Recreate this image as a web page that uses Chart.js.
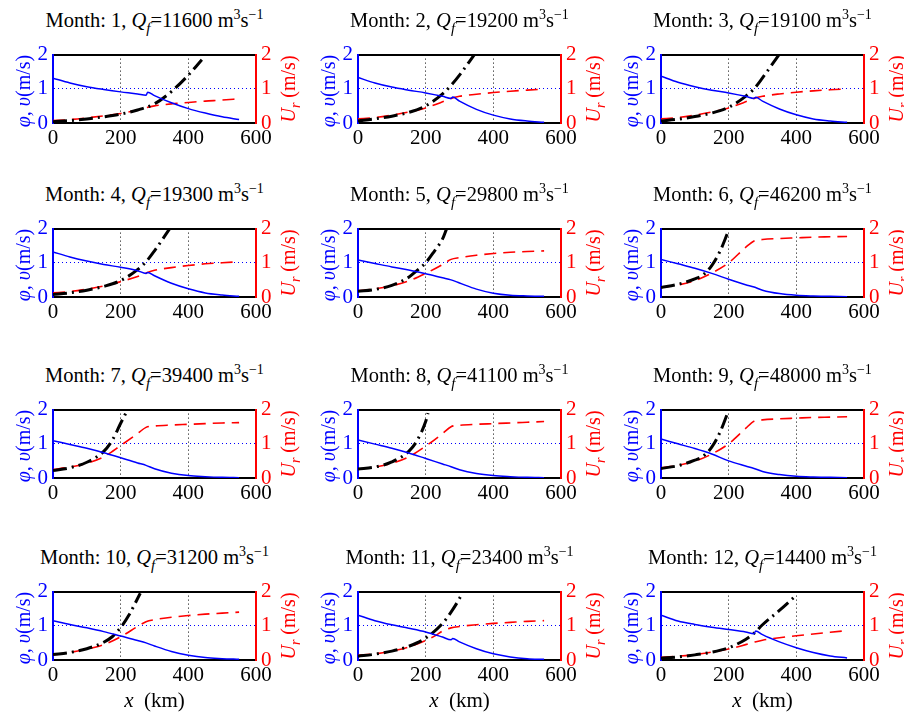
<!DOCTYPE html>
<html>
<head>
<meta charset="utf-8">
<script src="https://cdn.jsdelivr.net/npm/chart.js@4.4.1/dist/chart.umd.min.js"></script>
<style>
  html, body { margin: 0; padding: 0; background: #fff; }
  body { width: 904px; height: 713px; position: relative; overflow: hidden; font-family: "Liberation Serif", "DejaVu Serif", serif; }
  canvas { position: absolute; }
  .ttl { position: absolute; text-align: center; font-size: 20.5px; line-height: 22px; color: #000; white-space: nowrap; }
  .ttl sup { font-size: 14px; vertical-align: 8px; line-height: 0; }
  .ttl sub { font-size: 15px; vertical-align: -6px; line-height: 0; }
  .yl { position: absolute; width: 130px; height: 20px; line-height: 20px; text-align: center; font-size: 20px; transform: rotate(-90deg); transform-origin: 50% 50%; white-space: nowrap; }
  .yl sub { font-size: 14px; vertical-align: -5px; line-height: 0; }
  .xl { position: absolute; text-align: center; font-size: 21px; line-height: 22px; }
</style>
</head>
<body>
<script>
// ---------------- DATA ----------------
const months = [1, 2, 3, 4, 5, 6, 7, 8, 9, 10, 11, 12];
const flows = [11600, 19200, 19100, 19300, 29800, 46200, 39400, 41100, 48000, 31200, 23400, 14400];
const xTicks = [0, 200, 400, 600];
const yTicks = [0, 1, 2];

const X13 = [0, 50, 100, 150, 200, 250, 275, 300, 350, 400, 450, 500, 550];
const X14 = [0, 50, 100, 150, 200, 250, 275, 280, 300, 350, 400, 450, 500, 550];

// blue solid line (v)
const velX = [X14, X14, X14, X14, X13, X13, X13, X13, X13, X13, X14, X14];
const vel = [
  [1.31, 1.17, 1.06, 0.98, 0.91, 0.85, 0.81, 0.90, 0.80, 0.59, 0.42, 0.29, 0.18, 0.10],
  [1.33, 1.17, 1.05, 0.96, 0.88, 0.78, 0.72, 0.76, 0.64, 0.40, 0.23, 0.12, 0.06, 0.02],
  [1.37, 1.19, 1.06, 0.96, 0.88, 0.78, 0.72, 0.75, 0.64, 0.41, 0.24, 0.12, 0.06, 0.02],
  [1.32, 1.17, 1.05, 0.95, 0.87, 0.77, 0.69, 0.72, 0.62, 0.40, 0.24, 0.12, 0.06, 0.02],
  [1.08, 0.98, 0.88, 0.79, 0.68, 0.56, 0.50, 0.41, 0.23, 0.11, 0.05, 0.03, 0.02],
  [1.10, 0.97, 0.84, 0.69, 0.52, 0.36, 0.29, 0.20, 0.10, 0.05, 0.03, 0.02, 0.01],
  [1.09, 0.98, 0.87, 0.74, 0.59, 0.44, 0.37, 0.27, 0.14, 0.07, 0.04, 0.02, 0.01],
  [1.11, 0.99, 0.87, 0.73, 0.57, 0.41, 0.33, 0.24, 0.13, 0.07, 0.04, 0.02, 0.01],
  [1.14, 1.00, 0.86, 0.70, 0.50, 0.35, 0.28, 0.19, 0.10, 0.05, 0.03, 0.02, 0.01],
  [1.15, 1.04, 0.94, 0.83, 0.70, 0.57, 0.50, 0.41, 0.25, 0.14, 0.07, 0.04, 0.02],
  [1.31, 1.15, 1.03, 0.93, 0.82, 0.67, 0.59, 0.63, 0.53, 0.33, 0.18, 0.09, 0.04, 0.02],
  [1.31, 1.14, 1.04, 0.96, 0.89, 0.82, 0.77, 0.85, 0.74, 0.53, 0.36, 0.22, 0.12, 0.06]
];

// black dash-dot line (phi)
const phiX = [
  [0, 50, 100, 150, 200, 250, 300, 350, 400, 440],
  [0, 50, 100, 150, 200, 250, 275, 300, 344],
  [0, 50, 100, 150, 200, 250, 275, 300, 349],
  [0, 50, 100, 150, 200, 250, 275, 300, 345],
  [0, 50, 100, 150, 175, 200, 225, 250, 262],
  [0, 50, 100, 125, 150, 175, 198],
  [0, 50, 100, 150, 175, 200, 218],
  [0, 50, 100, 150, 175, 200, 207],
  [0, 50, 100, 125, 150, 175, 197],
  [0, 50, 100, 150, 175, 200, 225, 250, 258],
  [0, 50, 100, 150, 200, 250, 275, 300, 310],
  [0, 50, 100, 150, 200, 250, 275, 300, 350, 395]
];
const phi = [
  [0.04, 0.07, 0.12, 0.18, 0.26, 0.38, 0.56, 0.92, 1.40, 1.85],
  [0.06, 0.12, 0.20, 0.31, 0.50, 0.85, 1.10, 1.40, 2.00],
  [0.06, 0.11, 0.19, 0.29, 0.46, 0.78, 1.00, 1.32, 2.00],
  [0.07, 0.12, 0.20, 0.31, 0.48, 0.80, 1.03, 1.35, 2.00],
  [0.17, 0.22, 0.34, 0.58, 0.78, 1.00, 1.33, 1.70, 2.00],
  [0.28, 0.37, 0.53, 0.65, 0.92, 1.35, 1.90],
  [0.22, 0.30, 0.46, 0.78, 1.10, 1.60, 1.95],
  [0.26, 0.32, 0.47, 0.78, 1.10, 1.65, 1.90],
  [0.28, 0.36, 0.52, 0.64, 0.90, 1.35, 1.90],
  [0.16, 0.22, 0.33, 0.52, 0.68, 0.95, 1.32, 1.80, 1.95],
  [0.11, 0.17, 0.26, 0.40, 0.64, 1.07, 1.40, 1.80, 2.00],
  [0.05, 0.09, 0.15, 0.23, 0.36, 0.60, 0.78, 1.03, 1.45, 1.85]
];

// red dashed line (U_r, right axis)
const urX = [X13, X13, X13, X13, X13, X13, X13, X13, X13, X13,
  [0, 50, 100, 150, 200, 230, 250, 275, 300, 350, 400, 450, 500, 550], X13];
const ur = [
  [0.07, 0.10, 0.15, 0.21, 0.28, 0.38, 0.45, 0.50, 0.56, 0.60, 0.64, 0.67, 0.71],
  [0.12, 0.16, 0.23, 0.32, 0.44, 0.62, 0.72, 0.78, 0.84, 0.89, 0.93, 0.96, 0.99],
  [0.12, 0.16, 0.23, 0.32, 0.44, 0.62, 0.72, 0.78, 0.85, 0.90, 0.94, 0.97, 1.00],
  [0.12, 0.16, 0.23, 0.32, 0.45, 0.60, 0.70, 0.78, 0.86, 0.92, 0.97, 1.00, 1.03],
  [0.18, 0.24, 0.33, 0.47, 0.69, 0.95, 1.10, 1.15, 1.22, 1.27, 1.31, 1.33, 1.35],
  [0.28, 0.35, 0.48, 0.70, 1.00, 1.45, 1.64, 1.68, 1.71, 1.73, 1.75, 1.76, 1.77],
  [0.25, 0.32, 0.43, 0.62, 0.95, 1.30, 1.48, 1.52, 1.55, 1.57, 1.59, 1.61, 1.62],
  [0.26, 0.32, 0.43, 0.62, 0.93, 1.30, 1.50, 1.54, 1.57, 1.59, 1.61, 1.63, 1.65],
  [0.30, 0.37, 0.49, 0.70, 1.00, 1.45, 1.66, 1.70, 1.73, 1.75, 1.77, 1.78, 1.79],
  [0.15, 0.22, 0.32, 0.45, 0.68, 0.98, 1.12, 1.18, 1.25, 1.30, 1.34, 1.37, 1.40],
  [0.14, 0.18, 0.26, 0.38, 0.57, 0.72, 0.85, 0.94, 0.98, 1.03, 1.07, 1.10, 1.13, 1.15],
  [0.08, 0.11, 0.16, 0.23, 0.32, 0.45, 0.52, 0.58, 0.65, 0.71, 0.76, 0.81, 0.86]
];

// ---------------- LAYOUT ----------------
const colLeft = [53, 358, 661];
const rowTop = [49, 223, 404, 586];
const PW = 203, PH = 74;
const ML = 42, MR = 42, MT = 12, MB = 30;
const FONT = '"Liberation Serif", "DejaVu Serif", serif';

function pts(xs, ys) { return xs.map((x, i) => ({ x: x, y: ys[i] })); }

function addDiv(cls, html, css) {
  const d = document.createElement('div');
  d.className = cls;
  d.innerHTML = html;
  Object.assign(d.style, css);
  document.body.appendChild(d);
  return d;
}

months.forEach((m, i) => {
  const r = Math.floor(i / 3), c = i % 3;
  const L = colLeft[c], T = rowTop[r];

  const cv = document.createElement('canvas');
  cv.width = PW + ML + MR; cv.height = PH + MT + MB;
  cv.style.left = (L - ML) + 'px'; cv.style.top = (T - MT) + 'px';
  cv.style.width = cv.width + 'px'; cv.style.height = cv.height + 'px';
  document.body.appendChild(cv);

  new Chart(cv.getContext('2d'), {
    type: 'line',
    data: {
      datasets: [
        { data: pts(velX[i], vel[i]), yAxisID: 'y', xAxisID: 'x', borderColor: '#0000ff', borderWidth: 1.5,
          pointRadius: 0, fill: false, cubicInterpolationMode: 'monotone' },
        { data: pts(phiX[i], phi[i]), yAxisID: 'y', xAxisID: 'x', borderColor: '#000000', borderWidth: 3,
          borderDash: [14, 5, 2, 5], pointRadius: 0, fill: false, cubicInterpolationMode: 'monotone' },
        { data: pts(urX[i], ur[i]), yAxisID: 'y2', xAxisID: 'x', borderColor: '#ff0000', borderWidth: 1.6,
          borderDash: [12, 7], pointRadius: 0, fill: false, cubicInterpolationMode: 'monotone' }
      ]
    },
    options: {
      responsive: false, animation: false, devicePixelRatio: 1,
      layout: { padding: 0 },
      plugins: { legend: { display: false }, tooltip: { enabled: false }, title: { display: false } },
      scales: {
        x: {
          type: 'linear', position: 'bottom', min: 0, max: 600,
          afterBuildTicks: s => { s.ticks = xTicks.map(v => ({ value: v })); },
          afterFit: s => { s.height = MB; },
          ticks: { color: '#000', font: { family: FONT, size: 21 }, padding: 3, maxRotation: 0, autoSkip: false },
          grid: { drawTicks: false, lineWidth: 1,
            color: ctx => (ctx.tick && (ctx.tick.value === 200 || ctx.tick.value === 400)) ? '#000' : 'rgba(0,0,0,0)' },
          border: { color: '#000', width: 2, dash: [1, 3] }
        },
        xt: {
          type: 'linear', position: 'top', min: 0, max: 600,
          afterFit: s => { s.height = MT; },
          ticks: { display: false },
          grid: { drawTicks: false, drawOnChartArea: false, color: 'rgba(0,0,0,0)' },
          border: { color: '#000', width: 2 }
        },
        y: {
          type: 'linear', position: 'left', min: 0, max: 2,
          afterBuildTicks: s => { s.ticks = yTicks.map(v => ({ value: v })); },
          afterFit: s => { s.width = ML; },
          ticks: { color: '#0000ff', font: { family: FONT, size: 21 }, padding: 5 },
          grid: { drawTicks: false, lineWidth: 1,
            color: ctx => (ctx.tick && ctx.tick.value === 1) ? '#0000ff' : 'rgba(0,0,0,0)' },
          border: { color: '#0000ff', width: 2, dash: [1, 3] }
        },
        y2: {
          type: 'linear', position: 'right', min: 0, max: 2,
          afterBuildTicks: s => { s.ticks = yTicks.map(v => ({ value: v })); },
          afterFit: s => { s.width = MR; },
          ticks: { color: '#ff0000', font: { family: FONT, size: 21 }, padding: 5 },
          grid: { drawTicks: false, drawOnChartArea: false, color: 'rgba(0,0,0,0)' },
          border: { color: '#ff0000', width: 2 }
        }
      }
    }
  });

  addDiv('ttl', 'Month: ' + m + ', <i>Q</i><sub><i>f</i></sub>=' + flows[i] + ' m<sup>3</sup>s<sup>\u22121</sup>',
    { left: (L - 40) + 'px', width: (PW + 80) + 'px', top: (T - 40) + 'px' });
  addDiv('yl', '<i>\u03C6, \u03C5</i>(m/s)',
    { left: (L - 30 - 65) + 'px', top: (T + 42 - 10) + 'px', color: '#0000ff' });
  addDiv('yl', '<i>U</i><sub><i>r</i></sub> (m/s)',
    { left: (L + PW + 32 - 65) + 'px', top: (T + 40 - 10) + 'px', color: '#ff0000' });
  if (r === 3) {
    addDiv('xl', '<i>x</i>&nbsp; (km)', { left: L + 'px', width: PW + 'px', top: (T + PH + 29) + 'px' });
  }
});
</script>
</body>
</html>
